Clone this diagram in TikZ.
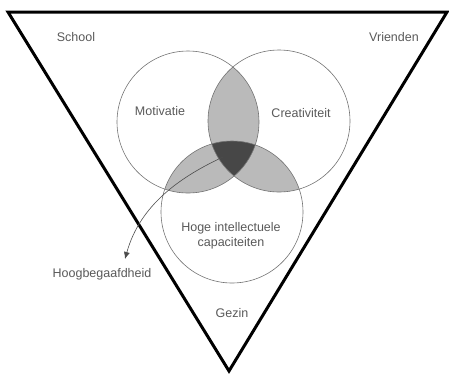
\documentclass[tikz,border=0pt]{standalone}
\usepackage{fontspec}
\setmainfont{Liberation Sans}
\usetikzlibrary{positioning,arrows.meta}

\begin{document}
\begin{tikzpicture}[
    x=1pt,y=-1pt,
    >={Latex[length=7pt,width=6pt]},
    label/.style={text=black!65,font=\fontsize{12.5}{15.5}\selectfont,align=center,inner sep=1pt},
    ring/.style={draw=black!55,line width=0.6pt},
    pair/.style={fill=black!27},
    core/.style={fill=black!72},
    arrow/.style={->,black!70,line width=0.6pt}
]
\useasboundingbox (0,0) rectangle (449,376);

% cirkels
\coordinate (M) at (188,122);
\coordinate (C) at (279,121);
\coordinate (H) at (232,212);

% overlappingen
\begin{scope}
  \clip (M) circle (71);
  \fill[pair] (C) circle (71);
  \fill[pair] (H) circle (71);
\end{scope}
\begin{scope}
  \clip (C) circle (71);
  \fill[pair] (H) circle (71);
\end{scope}
\begin{scope}
  \clip (M) circle (71);
  \clip (C) circle (71);
  \fill[core] (H) circle (71);
\end{scope}

\draw[ring] (M) circle (71);
\draw[ring] (C) circle (71);
\draw[ring] (H) circle (71);

% driehoek
\draw[line width=3pt,line join=miter] (8,12) -- (447,12) -- (229,371) -- cycle;

% labels
\node[label] (school) at (76,37) {School};
\node[label] (vrienden) at (394,37) {Vrienden};
\node[label] (mot) at (160,111) {Motivatie};
\node[label] (crea) at (301,113) {Creativiteit};
\node[label] (hoge) at (231,236) {Hoge intellectuele\\capaciteiten};
\node[label] (hoog) at (102,274) {Hoogbegaafdheid};
\node[label] (gezin) at (232,313) {Gezin};

% pijl
\coordinate (start) at (223,157);
\coordinate (tip) at ([xshift=23pt,yshift=8pt]hoog.north);
\draw[arrow] (start) .. controls (180,177) and (140,205) .. (tip);

\end{tikzpicture}
\end{document}
